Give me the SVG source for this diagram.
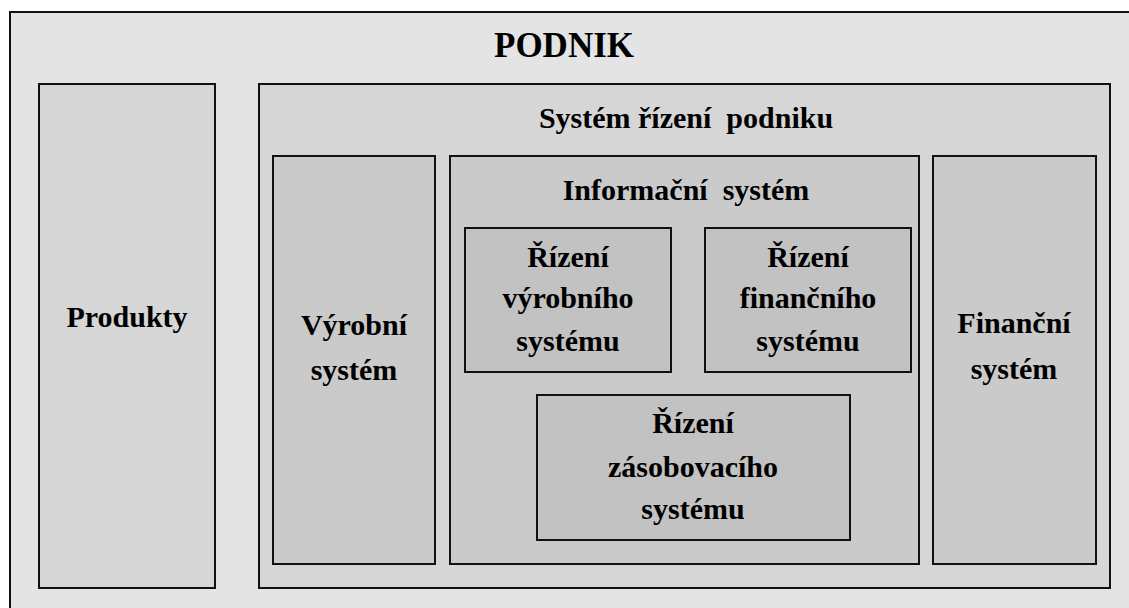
<svg xmlns="http://www.w3.org/2000/svg" width="1129" height="608" viewBox="0 0 1129 608">
  <style>
    .box { stroke: #111; stroke-width: 2; }
    .l0 { fill: #e4e4e4; }
    .l1 { fill: #d6d6d6; }
    .l2 { fill: #cacaca; }
    .l3 { fill: #c2c2c2; }
    text { font-family: "Liberation Serif", "Times New Roman", serif; font-weight: bold; fill: #000; text-anchor: middle; font-size: 30px; }
    .title { font-size: 35px; }
  </style>
  <rect width="1129" height="608" fill="#ffffff"/>

  <g id="podnik">
    <rect class="box l0" x="10" y="12" width="1130" height="610"/>
    <text class="title" x="564" y="57">PODNIK</text>
  </g>

  <g id="produkty">
    <rect class="box l1" x="39" y="84" width="176" height="504"/>
    <text x="127" y="327">Produkty</text>
  </g>

  <g id="system-rizeni">
    <rect class="box l1" x="259" y="84" width="851" height="504"/>
    <text x="686" y="128" xml:space="preserve">Systém řízení  podniku</text>
  </g>

  <g id="vyrobni-system">
    <rect class="box l2" x="273" y="156" width="162" height="408"/>
    <text x="354" y="335">Výrobní</text>
    <text x="354" y="380">systém</text>
  </g>

  <g id="informacni-system">
    <rect class="box l2" x="450" y="156" width="469" height="408"/>
    <text x="686" y="200" xml:space="preserve">Informační  systém</text>
  </g>

  <g id="rizeni-vyrobniho">
    <rect class="box l3" x="465" y="228" width="206" height="144"/>
    <text x="568" y="267">Řízení</text>
    <text x="568" y="308">výrobního</text>
    <text x="568" y="351">systému</text>
  </g>

  <g id="rizeni-financniho">
    <rect class="box l3" x="705" y="228" width="206" height="144"/>
    <text x="808" y="267">Řízení</text>
    <text x="808" y="308">finančního</text>
    <text x="808" y="351">systému</text>
  </g>

  <g id="rizeni-zasobovaciho">
    <rect class="box l3" x="537" y="395" width="313" height="145"/>
    <text x="693" y="433">Řízení</text>
    <text x="693" y="477">zásobovacího</text>
    <text x="693" y="519">systému</text>
  </g>

  <g id="financni-system">
    <rect class="box l2" x="933" y="156" width="163" height="408"/>
    <text x="1014" y="333">Finanční</text>
    <text x="1014" y="379">systém</text>
  </g>

  <g id="connectors"/>
</svg>
